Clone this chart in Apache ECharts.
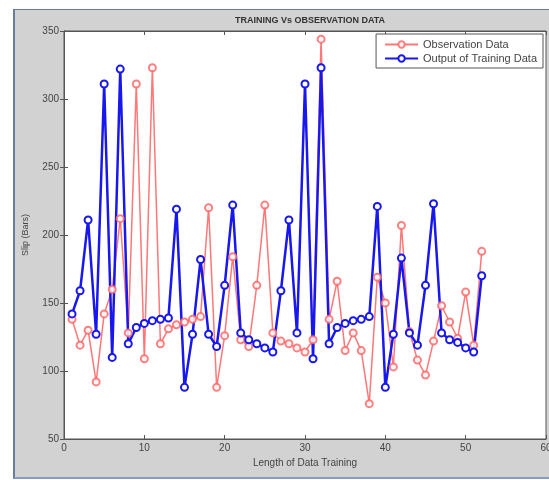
<!DOCTYPE html>
<html>
<head>
<meta charset="utf-8">
<script src="https://cdn.jsdelivr.net/npm/echarts@6/dist/echarts.min.js"></script>
<style>
html, body { margin: 0; padding: 0; background: #fff; }
#frame { position: absolute; left: 13px; top: 9px; width: 540px; height: 467px; background: #d2d2d2; border-left: 2px solid #6a7ca0; border-top: 1px solid #6a7ca0; border-bottom: 2px solid #8a9cc0; }
#chart { position: absolute; left: 0; top: 0; width: 549px; height: 480px; }
</style>
</head>
<body>
<div id="frame"></div>
<div id="chart"></div>
<script>
var xTicks = [0, 10, 20, 30, 40, 50, 60];
var yTicks = [50, 100, 150, 200, 250, 300, 350];

var observation = [138, 119, 130, 92, 142, 160, 212, 128, 311, 109,
                   323, 120, 131, 134, 136, 138, 140, 220, 88, 126,
                   184, 123, 118, 163, 222, 128, 122, 120, 117, 114,
                   123, 344, 138, 166, 115, 128, 115, 76, 169, 150,
                   103, 207, 129, 108, 97, 122, 148, 136, 124, 158,
                   119, 188];

var training = [142, 159, 211, 127, 311, 110, 322, 120, 132, 135,
                137, 138, 139, 219, 88, 127, 182, 127, 118, 163,
                222, 128, 123, 120, 117, 114, 159, 211, 128, 311,
                109, 323, 120, 132, 135, 137, 138, 140, 221, 88,
                127, 183, 128, 119, 163, 223, 128, 123, 121, 117,
                114, 170];

function pairs(arr) {
  return arr.map(function (v, i) { return [i + 1, v]; });
}

var chart = echarts.init(document.getElementById('chart'), null, {renderer: 'canvas'});

var tickFont = {color: '#444', fontSize: 10, fontFamily: 'Liberation Sans'};

chart.setOption({
  animation: false,
  backgroundColor: 'transparent',
  title: {
    text: 'TRAINING Vs OBSERVATION DATA',
    left: 305, top: 11, textAlign: 'center',
    textStyle: {fontSize: 9, fontWeight: 'bold', color: '#333', fontFamily: 'Liberation Sans'}
  },
  legend: {
    orient: 'vertical',
    right: 6, top: 34,
    padding: [5, 6, 4, 8],
    itemGap: 3,
    itemWidth: 33, itemHeight: 8,
    backgroundColor: '#fff',
    borderColor: '#555', borderWidth: 1,
    textStyle: {fontSize: 11, color: '#444', fontFamily: 'Liberation Sans'},
    data: ['Observation Data', 'Output of Training Data']
  },
  grid: {left: 64, right: 3, top: 31, bottom: 41, outerBoundsMode: 'none', show: true, backgroundColor: '#fff', borderColor: '#555', borderWidth: 1},
  xAxis: [{
    type: 'value', min: xTicks[0], max: xTicks[xTicks.length - 1], interval: 10,
    name: 'Length of Data Training', nameLocation: 'middle', nameGap: 19,
    nameTextStyle: {fontSize: 10, color: '#444', fontFamily: 'Liberation Sans'},
    axisLine: {lineStyle: {color: '#555'}},
    axisTick: {inside: true, length: 4, lineStyle: {color: '#555'}},
    axisLabel: Object.assign({margin: 4}, tickFont),
    splitLine: {show: false}
  }, {
    type: 'value', position: 'top', min: 0, max: 60, interval: 10,
    axisLine: {lineStyle: {color: '#555'}},
    axisTick: {inside: true, length: 4, lineStyle: {color: '#555'}},
    axisLabel: {show: false}, splitLine: {show: false}
  }],
  yAxis: [{
    type: 'value', min: yTicks[0], max: yTicks[yTicks.length - 1], interval: 50,
    name: 'Slip (Bars)', nameLocation: 'middle', nameGap: 34, nameRotate: 90,
    nameTextStyle: {fontSize: 9, color: '#444', fontFamily: 'Liberation Sans'},
    axisLine: {lineStyle: {color: '#555'}},
    axisTick: {inside: true, length: 4, lineStyle: {color: '#555'}},
    axisLabel: Object.assign({margin: 5}, tickFont),
    splitLine: {show: false}
  }, {
    type: 'value', position: 'right', min: 50, max: 350, interval: 50,
    axisLine: {lineStyle: {color: '#555'}},
    axisTick: {inside: true, length: 4, lineStyle: {color: '#555'}},
    axisLabel: {show: false}, splitLine: {show: false}
  }],
  series: [{
    name: 'Observation Data',
    type: 'line',
    data: pairs(observation),
    symbol: 'emptyCircle', symbolSize: 7,
    lineStyle: {color: '#ff4a4a', width: 1.5, opacity: 0.75},
    itemStyle: {color: '#ff6a6a', borderColor: '#ff6a6a', borderWidth: 1.2, opacity: 0.85}
  }, {
    name: 'Output of Training Data',
    type: 'line',
    data: pairs(training),
    symbol: 'emptyCircle', symbolSize: 7,
    lineStyle: {color: '#1818ee', width: 2.5},
    itemStyle: {color: '#1818ee', borderColor: '#1818ee', borderWidth: 2.2}
  }]
});
</script>
</body>
</html>
